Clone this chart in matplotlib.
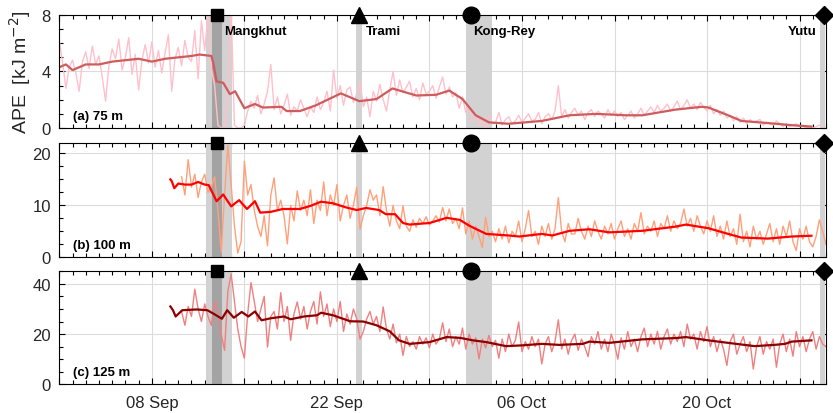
import numpy as np
import matplotlib.pyplot as plt
import matplotlib.dates as mdates

plt.rcParams['font.family'] = ['Liberation Sans', 'DejaVu Sans']

# time origin: all day offsets below count from 1 Sep 2018 00:00
t0 = np.datetime64('2018-09-01T00:00')
step = 0.25  # raw series are 6-hourly

# ---- (a) 75 m ----
raw_a_start = 0.0
raw_a = [
    6.2, 4.6, 2.8, 4.3,
    4.8, 3.9, 2.6, 4.7,
    5.4, 4.2, 5.8, 4.5,
    5.1, 3.6, 1.9, 4.4,
    5.6, 4.9, 6.3, 4.1,
    5.0, 6.4, 3.8, 5.2,
    2.7, 4.8, 5.9, 4.6,
    6.1, 4.3, 5.5, 3.9,
    5.3, 6.6, 2.6, 4.9,
    5.7, 4.4, 6.2, 5.0,
    4.7, 6.9, 3.5, 7.6,
    5.5, 8.0, 4.2, 3.0,
    0.2, 0.0, 0.0, 3.0,
    8.4, 0.2, 0.0, 0.0,
    0.2, 1.2, 1.9, 1.4,
    2.3, 1.0, 1.7, 2.6,
    4.5, 1.3, 2.2, 1.0,
    1.6, 2.4, 0.9, 1.5,
    1.2, 2.0, 1.4, 0.8,
    1.5, 1.1, 2.2, 1.3,
    1.8, 2.6, 1.2, 4.1,
    2.1, 3.0, 1.6, 2.7,
    2.9, 1.8, 2.4, 3.3,
    1.5, 2.2, 0.8, 2.6,
    1.9, 3.1, 2.0, 1.2,
    2.7, 4.0, 2.3, 3.4,
    2.5, 2.9, 3.3, 2.2,
    2.8, 2.0, 3.2, 2.4,
    2.6, 3.0, 2.1, 2.9,
    3.6, 2.4, 2.9, 2.2,
    2.5, 1.4, 2.2, 1.1,
    1.6, 0.4, 1.0, 0.2,
    0.6, 0.0, 0.9, 0.3,
    0.4, 1.1, 0.2, 0.6,
    0.8, 0.3, 0.5, 0.9,
    0.4, 0.7, 1.0, 0.5,
    0.6, 1.1, 0.3, 0.8,
    1.0, 0.6, 1.2, 3.0,
    0.8, 1.3, 0.7, 1.1,
    1.4, 0.9, 1.2, 0.6,
    1.1, 1.3, 0.8, 1.2,
    1.0, 0.7, 1.3, 0.9,
    1.2, 0.8, 1.1, 0.6,
    0.9, 1.2, 0.7, 1.0,
    1.4, 0.9, 1.2, 1.5,
    1.1, 1.6, 1.2, 1.4,
    1.7, 1.2, 1.5, 1.9,
    1.3, 1.6, 2.0, 1.4,
    1.7, 1.3, 1.8, 1.5,
    1.2, 1.6, 1.0, 1.3,
    0.9, 1.2, 0.7, 0.9,
    0.5, 0.8, 0.4, 0.7,
    0.3, 0.6, 0.4, 0.5,
    0.6, 0.2, 0.4, 0.3,
    0.2, 0.5, 0.3, 0.1,
    0.3, 0.1, 0.2, 0.3,
    0.1, 0.2, 0.0, 0.1,
    0.0, 0.1, 0.2, 0.1,
]
smooth_a_days = [0, 0.5, 1, 1.5, 2, 3, 4, 5, 6, 7, 8, 9, 10, 10.6, 11.5, 11.65,
                 11.9, 12.4, 12.9, 13.3, 14.0, 14.8, 15.4, 16.8, 17.2, 18.2,
                 19.4, 20.4, 21.3, 22.7, 24.0, 25.2, 27.0, 28.5, 29.5, 30.5,
                 31.5, 32.5, 34.0, 36.5, 38.6, 40.6, 42.9, 44.1, 46.6, 48.6,
                 49.1, 50.6, 51.6, 53.6, 55.4, 56.9]
smooth_a = [4.3, 4.5, 4.1, 4.3, 4.5, 4.5, 4.7, 4.8, 4.9, 4.7, 4.9, 5.0, 5.1, 5.2,
            5.1, 4.6, 3.3, 3.2, 2.4, 2.6, 1.4, 1.7, 1.45, 1.5, 1.2, 1.2, 1.6,
            2.05, 2.45, 1.9, 2.05, 2.8, 2.3, 2.35, 2.65, 2.05, 0.9, 0.4, 0.3,
            0.5, 0.9, 1.0, 0.9, 0.9, 1.3, 1.5, 1.45, 0.9, 0.5, 0.35, 0.2, 0.1]

# ---- (b) 100 m ----
raw_b_start = 9.25
raw_b = [
    15.5, 12.0, 18.8,
    13.5, 16.0, 11.5, 14.5,
    16.0, 12.5, 13.5, 15.5,
    9.0, 1.0, 12.0, 21.5,
    14.0, 6.0, 0.8, 3.0,
    18.5, 12.0, 14.0, 9.0,
    6.0, 4.0, 8.0, 2.2,
    12.0, 15.3, 9.0, 11.0,
    8.0, 2.6, 10.0, 7.0,
    12.8, 9.0, 11.0, 8.0,
    13.0, 6.5, 11.0, 9.0,
    14.5, 8.0, 12.0, 10.0,
    14.0, 7.0, 10.0, 12.0,
    7.5, 10.0, 13.5, 5.4,
    8.0, 10.0, 13.0, 11.0,
    12.0, 8.0, 13.6, 9.0,
    6.0, 10.0, 7.0, 5.5,
    9.9, 6.0, 5.0, 7.2,
    5.8, 7.5, 6.5, 7.8,
    6.2, 7.0, 8.0, 6.8,
    9.6, 7.0, 9.3, 6.5,
    7.5, 5.5, 9.5, 4.5,
    7.0, 3.5, 6.0, 4.0,
    1.9, 7.7, 4.0, 5.0,
    3.0, 5.5, 3.5, 6.0,
    2.8, 5.0, 4.0, 7.0,
    3.0, 5.5, 9.0, 4.0,
    5.0, 2.5, 6.0, 4.0,
    6.5, 3.5, 5.5, 11.5,
    5.0, 3.0, 6.5, 4.5,
    4.5, 7.5, 5.0, 3.5,
    6.0, 4.0, 7.0, 5.0,
    3.5, 6.0, 4.5, 6.5,
    3.5, 5.5, 7.0, 4.0,
    5.5, 3.5, 6.5, 5.0,
    8.6, 4.5, 6.0, 5.0,
    7.0, 4.0, 6.5, 5.5,
    8.0, 5.0, 7.0, 5.5,
    6.5, 9.3, 6.0, 7.5,
    5.0, 8.0, 6.0, 4.5,
    7.0, 5.0, 8.0, 4.0,
    6.0, 3.5, 7.0, 4.0,
    5.5, 2.5, 8.3, 3.0,
    5.0, 2.0, 6.0, 3.5,
    5.0, 2.5, 4.5, 6.5,
    3.0, 5.5, 2.5, 6.0,
    4.0, 7.0, 3.0, 1.3,
    5.5, 3.5, 6.0, 3.0,
    2.0, 4.0, 7.2, 5.0,
    2.5,
]
smooth_b_days = [8.4, 8.5, 8.7, 9.0, 9.5, 10.0, 10.5, 11.0, 11.3, 11.9, 12.4,
                 13.0, 13.6, 14.2, 14.8, 15.2, 16.0, 16.9, 18.2, 19.0, 19.8,
                 20.7, 21.7, 22.5, 23.2, 24.2, 24.7, 25.4, 26.0, 26.5, 28.0,
                 29.3, 30.3, 31.0, 32.3, 34.0, 34.8, 36.5, 37.3, 38.6, 40.1,
                 41.6, 44.1, 46.6, 47.4, 49.1, 50.6, 51.6, 53.6, 55.4, 56.9]
smooth_b = [15.0, 14.7, 13.3, 14.2, 14.0, 14.0, 14.5, 14.0, 13.9, 10.8, 12.1,
            9.8, 11.0, 9.3, 10.8, 8.6, 8.75, 9.3, 9.3, 9.9, 10.7, 10.4, 9.6,
            9.1, 9.5, 9.1, 8.3, 8.3, 6.6, 6.3, 6.6, 7.6, 7.2, 6.1, 4.5, 4.2,
            4.0, 4.5, 4.2, 5.1, 5.4, 4.8, 5.1, 5.9, 6.3, 5.6, 4.5, 3.8, 3.6,
            4.0, 4.15]

# ---- (c) 125 m ----
raw_c_start = 9.25
raw_c = [
    29.0, 23.5, 31.0,
    27.0, 37.9, 30.0, 25.0,
    32.0, 27.0, 23.5, 33.0,
    29.0, 20.0, 13.5, 37.0,
    44.0, 33.0, 22.0, 15.0,
    10.4, 28.0, 40.5, 33.0,
    25.0, 30.0, 35.0, 14.8,
    27.0, 29.0, 22.0, 36.5,
    25.0, 31.0, 17.5, 28.0,
    32.8, 26.0, 31.0, 22.0,
    29.0, 33.0, 24.0, 36.8,
    27.0, 32.0, 23.0, 30.0,
    25.0, 33.0, 21.0, 28.0,
    24.0, 30.0, 26.0, 18.0,
    21.0, 26.0, 29.0, 24.0,
    27.0, 21.0, 30.8, 22.0,
    18.0, 24.0, 16.5, 20.0,
    11.5, 19.0, 15.0, 17.0,
    14.0, 19.0, 16.0, 18.5,
    14.5, 20.0, 16.0, 18.0,
    24.5, 17.0, 22.0, 15.0,
    19.0, 16.0, 22.4, 14.0,
    20.0, 16.0, 18.5, 10.1,
    18.0, 14.5, 19.5, 15.0,
    17.5, 10.4, 18.0, 13.0,
    20.0, 15.0, 17.5, 24.8,
    13.0, 17.0, 14.0, 19.0,
    15.0, 18.0, 8.1, 16.0,
    19.0, 13.0, 17.0, 25.7,
    14.0, 18.0, 12.0, 17.5,
    20.0, 13.5, 18.0, 15.0,
    11.0, 19.0, 16.0, 21.0,
    14.0, 18.0, 13.0, 20.0,
    16.0, 10.0, 18.5, 14.0,
    21.0, 15.0, 18.0, 13.0,
    19.0, 22.4, 15.0, 20.0,
    16.0, 21.0, 14.0, 19.0,
    22.0, 16.0, 20.0, 17.0,
    21.0, 15.0, 24.0, 18.0,
    20.0, 14.0, 21.0, 17.0,
    23.0, 15.0, 19.0, 13.0,
    18.0, 14.0, 7.5, 17.0,
    20.0, 12.0, 16.0, 19.0,
    13.0, 17.0, 6.1, 15.0,
    19.0, 12.0, 17.0, 14.0,
    18.0, 6.8, 16.0, 20.0,
    13.0, 18.0, 11.2, 21.0,
    15.0, 19.0, 13.0, 18.0,
    21.0, 14.0, 19.0, 16.0,
    15.0,
]
smooth_c_days = [8.4, 8.6, 8.8, 9.3, 10.4, 11.2, 11.7, 12.3, 12.7, 13.2, 13.8,
                 14.3, 14.8, 15.3, 16.0, 17.0, 17.5, 18.5, 19.5, 19.8, 20.7,
                 22.0, 23.0, 24.0, 25.0, 25.7, 26.5, 28.0, 29.3, 30.3, 31.3,
                 32.3, 33.8, 35.0, 36.5, 37.8, 39.6, 40.1, 41.6, 44.1, 46.6,
                 47.4, 49.1, 50.6, 52.6, 54.1, 54.9, 55.4, 56.9]
smooth_c = [31.0, 29.5, 27.0, 29.5, 29.8, 29.5, 28.0, 26.1, 29.5, 26.5, 28.8,
            27.0, 29.0, 25.5, 26.3, 27.0, 25.9, 27.0, 27.5, 28.5, 27.5, 25.1,
            25.0, 23.5, 21.1, 17.5, 16.1, 16.8, 18.8, 18.5, 17.5, 16.8, 15.2,
            15.5, 16.1, 15.7, 16.1, 17.0, 16.5, 17.9, 18.4, 18.8, 17.5, 16.5,
            15.2, 15.7, 16.1, 17.0, 17.5]

# typhoon passages (day offsets from 1 Sep 2018)
storm_names = ['Mangkhut', 'Trami', 'Kong-Rey', 'Yutu']
storm_peak = [11.94, 22.65, 31.14, 57.87]
storm_start = [11.09, 22.48, 30.74, 57.57]
storm_end = [13.10, 22.93, 32.70, 57.95]
core_start, core_end = 11.54, 12.30   # closest approach of Mangkhut

week_ticks = ['2018-09-01', '2018-09-08', '2018-09-15', '2018-09-22',
              '2018-09-29', '2018-10-06', '2018-10-13', '2018-10-20',
              '2018-10-27']
week_labels = ['', '08 Sep', '', '22 Sep', '', '06 Oct', '', '20 Oct', '']


def to_time(days):
    mins = np.round(np.asarray(days, dtype=float) * 1440).astype('timedelta64[m]')
    return t0 + mins


def raw_time(start, values):
    return to_time(start + np.arange(len(values)) * step)


panels = [
    dict(raw=raw_a, t_raw=raw_time(raw_a_start, raw_a),
         t_smooth=to_time(smooth_a_days), smooth=smooth_a,
         c_raw='#ffc0cb', c_smooth='#cd5c5c', ylim=(0, 8),
         major=[0, 4, 8], minor=1, label='(a) 75 m'),
    dict(raw=raw_b, t_raw=raw_time(raw_b_start, raw_b),
         t_smooth=to_time(smooth_b_days), smooth=smooth_b,
         c_raw='#ffa07a', c_smooth='#ff0000', ylim=(0, 22),
         major=[0, 10, 20], minor=2.5, label='(b) 100 m'),
    dict(raw=raw_c, t_raw=raw_time(raw_c_start, raw_c),
         t_smooth=to_time(smooth_c_days), smooth=smooth_c,
         c_raw='#f08080', c_smooth='#8b0000', ylim=(0, 45),
         major=[0, 20, 40], minor=5, label='(c) 125 m'),
]

markers = ['s', '^', 'o', 'D']
msizes = [8, 11, 12, 9.5]

fig = plt.figure(figsize=(8.33, 4.14), dpi=100)
boxes = [[0.0712, 0.6884, 0.9204, 0.273],
         [0.0712, 0.3761, 0.9204, 0.276],
         [0.0712, 0.0693, 0.9204, 0.273]]
axes = [fig.add_axes(b) for b in boxes]

xmin, xmax = to_time([0.0, 58.0])

for i, (ax, p) in enumerate(zip(axes, panels)):
    # storm windows
    for s0, s1 in zip(storm_start, storm_end):
        a0, a1 = to_time([s0, s1])
        ax.axvspan(a0, a1, color='#d2d2d2', lw=0, zorder=1)
    c0, c1 = to_time([core_start, core_end])
    ax.axvspan(c0, c1, color='#a3a3a3', lw=0, zorder=1)

    ax.plot(p['t_raw'], p['raw'], color=p['c_raw'], lw=1.0, zorder=2)
    ax.plot(p['t_smooth'], p['smooth'], color=p['c_smooth'], lw=1.6, zorder=3)

    for tp, m, ms in zip(storm_peak, markers, msizes):
        ax.plot(to_time([tp]), [1.0], marker=m, ms=ms, color='k', ls='none',
                transform=ax.get_xaxis_transform(), clip_on=False, zorder=10)

    ax.set_xlim(xmin, xmax)
    ax.set_ylim(*p['ylim'])
    ax.set_yticks(p['major'])
    ax.yaxis.set_minor_locator(plt.MultipleLocator(p['minor']))
    ax.set_xticks(np.array(week_ticks, dtype='datetime64[m]'))
    ax.set_xticklabels(week_labels if i == 2 else [''] * len(week_labels))
    ax.xaxis.set_minor_locator(mdates.DayLocator())

    ax.grid(True, which='major', color='#dcdcdc', lw=0.8, zorder=0)
    ax.set_axisbelow(True)
    ax.tick_params(which='both', direction='in', top=True, right=False,
                   labelsize=12, labelcolor='#262626', width=0.8)
    ax.tick_params(which='major', length=4, right=True)
    ax.tick_params(which='minor', length=3)
    ax.tick_params(axis='x', which='major', pad=8)
    ax.tick_params(axis='y', which='major', pad=6)
    for sp in ax.spines.values():
        sp.set_linewidth(0.8)
        sp.set_zorder(5)

    ax.text(0.018, 0.11, p['label'], transform=ax.transAxes, fontsize=9.5,
            fontweight='bold', va='center', zorder=6)

axes[0].set_ylabel('APE  [kJ m$^{-2}$]', fontsize=14, color='#262626',
                   labelpad=6)

# storm names on the top panel
name_pos = [12.45, 23.2, 31.3, 57.27]
for name, d in zip(storm_names, name_pos):
    ha = 'right' if name == 'Yutu' else 'left'
    axes[0].text(to_time([d])[0], 0.86, name, transform=axes[0].get_xaxis_transform(),
                 ha=ha, va='center', fontsize=9.5, fontweight='bold', zorder=6)

fig.savefig('out.png', dpi=100)
